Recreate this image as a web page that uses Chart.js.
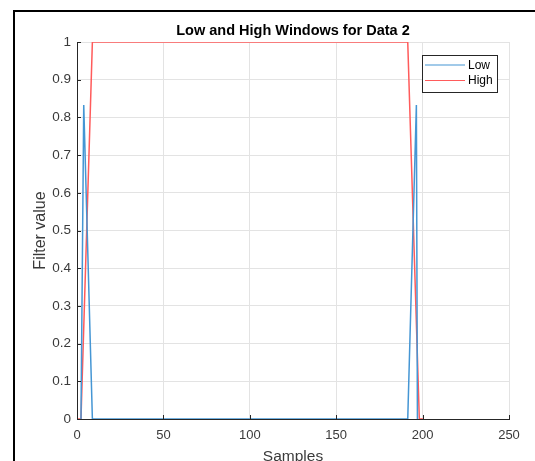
<!DOCTYPE html>
<html>
<head>
<meta charset="utf-8">
<script src="https://cdn.jsdelivr.net/npm/chart.js@4/dist/chart.umd.min.js"></script>
<style>
  html, body { margin: 0; padding: 0; background: #fff; overflow: hidden; }
  #frame { position: absolute; left: 13px; top: 10px; width: 600px; height: 600px; border: 2px solid #000; }
  #wrap { position: absolute; left: 0; top: 0; width: 535px; height: 470px; }
</style>
</head>
<body>
<div id="frame"></div>
<div id="wrap"><canvas id="myChart" width="535" height="470"></canvas></div>
<script>
// values
const chartTitle = 'Low and High Windows for Data 2';
const lowLabel = 'Low';
const highLabel = 'High';
const lowX = [2.3, 3.9, 8.9, 191.4, 196.4, 197];
const lowY = [0, 0.833, 0, 0, 0.833, 0];
const highX = [0.6, 2.3, 8.9, 191.4, 198.1, 200.2];
const highY = [0, 0, 1, 1, 0, 0];
const xTicks = [0, 50, 100, 150, 200, 250];
const yTicks = [0, 0.1, 0.2, 0.3, 0.4, 0.5, 0.6, 0.7, 0.8, 0.9, 1];

const blue = '#4596d4';
const red = '#ff5b5b';
const axisColor = '#262626';
const labelColor = '#3a3a3a';
const font = 'Liberation Sans, Arial, sans-serif';

function pts(xs, ys) {
  return xs.map((x, i) => ({ x: x, y: ys[i] }));
}

// matlab-ish inside ticks, title and boxed legend
const extras = {
  id: 'extras',
  afterDraw(chart) {
    const ctx = chart.ctx;
    const xs = chart.scales.x, ys = chart.scales.y;
    const area = chart.chartArea;
    ctx.save();
    ctx.strokeStyle = axisColor;
    ctx.lineWidth = 1;
    ctx.beginPath();
    xTicks.forEach(v => {
      const px = Math.round(xs.getPixelForValue(v)) + 0.5;
      ctx.moveTo(px, area.bottom);
      ctx.lineTo(px, area.bottom - 4);
    });
    yTicks.forEach(v => {
      const py = Math.round(ys.getPixelForValue(v)) + 0.5;
      ctx.moveTo(area.left, py);
      ctx.lineTo(area.left + 4, py);
    });
    ctx.stroke();

    // title
    ctx.fillStyle = '#000';
    ctx.font = 'bold 14.5px ' + font;
    ctx.textAlign = 'center';
    ctx.textBaseline = 'middle';
    ctx.fillText(chartTitle, 293, 30.5);

    // legend
    const lx = 422, ly = 55, lw = 75, lh = 37;
    ctx.fillStyle = '#fff';
    ctx.fillRect(lx, ly, lw, lh);
    ctx.strokeStyle = axisColor;
    ctx.strokeRect(lx + 0.5, ly + 0.5, lw, lh);
    ctx.font = '12px ' + font;
    ctx.textAlign = 'left';
    chart.data.datasets.forEach((ds, i) => {
      const yy = ly + 10 + i * 15.5;
      ctx.strokeStyle = ds.borderColor;
      ctx.lineWidth = 1.2;
      ctx.beginPath();
      ctx.moveTo(lx + 3, yy);
      ctx.lineTo(lx + 43, yy);
      ctx.stroke();
      ctx.fillStyle = '#000';
      ctx.fillText(ds.label, lx + 46, yy + 0.5);
    });
    ctx.restore();
  }
};

window.addEventListener('load', function () {
  const ctx = document.getElementById('myChart');
  const myChart = new Chart(ctx, {
    type: 'line',
    data: {
      datasets: [{
        label: lowLabel,
        data: pts(lowX, lowY),
        borderColor: blue,
        borderWidth: 1.5,
        pointRadius: 0,
        tension: 0
      }, {
        label: highLabel,
        data: pts(highX, highY),
        borderColor: red,
        borderWidth: 1.5,
        pointRadius: 0,
        tension: 0
      }]
    },
    options: {
      responsive: false,
      animation: false,
      layout: { padding: { left: 0, right: 26, top: 42, bottom: 0 } },
      plugins: {
        legend: { display: false },
        title: { display: false },
        tooltip: { enabled: false }
      },
      scales: {
        x: {
          type: 'linear',
          min: 0,
          max: 250,
          afterBuildTicks: s => { s.ticks = xTicks.map(v => ({ value: v })); },
          afterFit: s => { s.height = 51; },
          ticks: { color: labelColor, font: { family: font, size: 13 }, padding: 9, maxRotation: 0, callback: v => String(v) },
          grid: { color: '#e3e3e3', drawTicks: false },
          border: { color: axisColor, width: 1 },
          title: { display: true, text: 'Samples', color: labelColor, font: { family: font, size: 15.5 }, padding: { top: 0, bottom: 4 } }
        },
        y: {
          type: 'linear',
          min: 0,
          max: 1,
          afterBuildTicks: s => { s.ticks = yTicks.map(v => ({ value: v })); },
          afterFit: s => { s.width = 77; },
          ticks: { color: labelColor, font: { family: font, size: 13.5 }, padding: 6, callback: v => String(v) },
          grid: { color: '#e3e3e3', drawTicks: false },
          border: { color: axisColor, width: 1 },
          title: { display: true, text: 'Filter value', color: labelColor, font: { family: font, size: 16 }, padding: { top: 31, bottom: 0 } }
        }
      }
    },
    plugins: [extras]
  });
});
</script>
</body>
</html>
